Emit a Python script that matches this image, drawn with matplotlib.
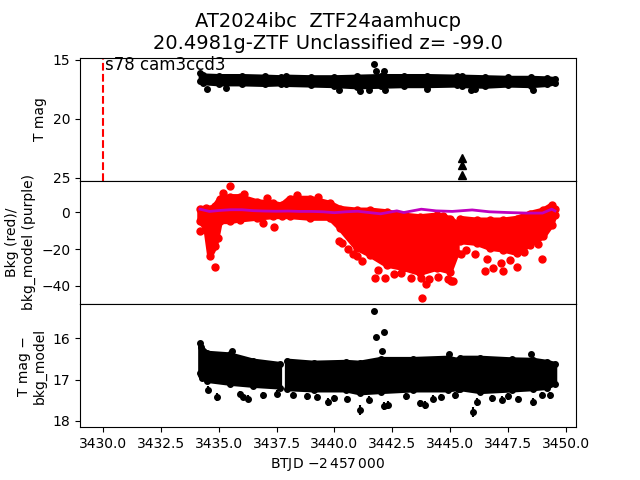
import numpy as np
import matplotlib
matplotlib.use('Agg')
import matplotlib.pyplot as plt

nan = np.nan

# ---------------------------------------------------------------------------
# Values
# top panel: T mag envelope of the dense band (point centres)
top_t  = [3434.2, 3434.3, 3435.0, 3436.0, 3437.0, 3437.7, 3437.9, 3439.0, 3440.0, 3441.0,
          3442.0, 3443.0, 3444.0, 3445.3, 3445.5, 3446.5, 3447.5, 3448.5, 3449.2, 3449.55]
top_hi = [16.15, 16.3, 16.35, 16.35, 16.4, 16.45, 16.4, 16.45, 16.45, 16.4,
          16.35, 16.35, 16.35, 16.4, 16.4, 16.45, 16.5, 16.5, 16.55, 16.6]
top_lo = [16.85, 16.95, 17.05, 17.05, 17.1, 17.05, 17.1, 17.15, 17.2, 17.3,
          17.25, 17.2, 17.2, 17.15, 17.2, 17.25, 17.15, 17.2, 17.1, 16.95]
top_pts_t = [3441.72, 3441.8, 3442.15, 3434.5, 3435.3, 3440.2, 3441.1, 3441.5, 3442.2,
             3444.0, 3445.9, 3446.1, 3448.6]
top_pts_m = [15.36, 15.95, 15.93, 17.45, 17.4, 17.55, 17.65, 17.55, 17.6,
             17.5, 17.6, 17.5, 17.55]
# upper limits
lim_t = [3445.5, 3445.5, 3445.5]
lim_m = [23.3, 23.9, 24.8]

# middle panel: background flux (red) envelope + model (purple)
bkg_t  = [3434.19, 3434.45, 3434.62, 3434.85, 3435.06, 3435.49, 3435.93, 3436.64, 3437.36, 3437.72,
          3438.08, 3438.95, 3439.81, 3440.25, 3440.97, 3441.54, 3442.26, 3442.98, 3443.7, 3444.43,
          3445.0, 3445.3, 3445.36, 3445.44, 3446.15, 3446.73, 3447.3, 3447.88, 3448.46, 3449.04,
          3449.4, 3449.54]
bkg_hi = [1.9, 2.0, 1.5, 3.5, 7.4, 8.3, 8.3, 5.6, 4.7, 3.7,
          7.4, 7.4, 4.7, 1.9, 1.0, 1.0, 0.1, -1.7, -2.6, -1.7,
          -3.5, -6.2, nan, -3.5, -4.4, -4.4, -4.4, -3.5, -0.8, 1.0,
          3.7, 1.9]
bkg_lo = [-5.0, -8.5, -24.0, -18.5, -5.0, -5.0, -4.1, -3.2, -2.3, -2.3,
          -2.3, -3.2, -3.2, -8.7, -19.5, -23.1, -28.6, -30.4, -33.1, -30.4,
          -32.2, -22.2, nan, -15.9, -16.8, -19.5, -20.4, -22.2, -17.7, -13.2,
          -6.8, -1.4]
bkg_pts_t = [3435.49, 3434.84, 3434.2, 3434.95, 3437.4, 3440.2, 3440.35, 3441.2, 3441.75, 3442.2,
             3443.78, 3443.95, 3443.75, 3445.05, 3445.15, 3444.7, 3445.47, 3446.1, 3446.52, 3446.6,
             3446.88, 3447.28, 3447.2, 3447.88, 3449.0, 3442.9, 3444.1, 3444.5, 3441.0, 3440.6,
             3435.2, 3436.1, 3437.1, 3438.4, 3439.3, 3441.9, 3442.6, 3443.3, 3444.9, 3445.7,
             3447.6, 3448.2, 3448.8, 3440.8, 3436.9]
bkg_pts_v = [14.3, -29.7, -10.2, -13.8, -8.3, -15.6, -16.5, -26.5, -35.5, -35.5,
             -46.7, -38.8, -35.9, -37.3, -37.3, -2.0, -22.5, -22.5, -31.9, -25.6,
             -30.5, -31.9, -27.4, -29.7, -25.6, -33.0, -36.0, -35.0, -24.0, -20.0,
             10.5, 10.0, 7.5, 9.5, 8.0, -31.5, -33.5, -35.5, -36.5, -20.5,
             -26.0, -21.5, -17.0, -22.5, -6.0]
model_t = [3434.19, 3434.6, 3435.0, 3435.5, 3436.0, 3436.5, 3437.0, 3437.5, 3438.0, 3438.5,
           3439.0, 3439.5, 3440.0, 3440.5, 3441.0, 3441.5, 3442.0, 3442.7, 3443.0, 3443.76,
           3444.4, 3445.1, 3445.96, 3446.7, 3447.5, 3448.3, 3449.0, 3449.4, 3449.54]
model_v = [1.6, 0.4, 0.9, 1.3, 1.3, 0.8, 0.6, 0.5, 0.6, 0.4,
           0.4, 0.2, -0.3, 0.2, 0.5, -0.2, -0.9, 0.7, -0.2, 1.6,
           0.7, 0.4, 1.2, 0.2, -0.2, -0.5, -0.5, 1.6, 0.7]

# bottom panel: T mag - bkg_model envelope + individual points with errors
sub_t  = [3434.2, 3434.25, 3434.5, 3435.5, 3436.5, 3437.65, 3437.75, 3437.95, 3439.1, 3440.5,
          3441.1, 3442.0, 3443.4, 3444.9, 3445.33, 3445.37, 3445.45, 3446.3, 3447.7, 3448.6,
          3449.2, 3449.55]
sub_hi = [16.12, 16.22, 16.35, 16.39, 16.54, 16.62, nan, 16.54, 16.59, 16.57,
          16.59, 16.5, 16.5, 16.47, 16.52, nan, 16.47, 16.47, 16.51, 16.52,
          16.57, 16.62]
sub_lo = [16.83, 16.88, 17.03, 17.1, 17.15, 17.19, nan, 17.23, 17.26, 17.26,
          17.33, 17.3, 17.26, 17.26, 17.23, nan, 17.23, 17.3, 17.26, 17.23,
          17.2, 17.1]
sub_pts_t = [3434.29, 3434.55, 3434.91, 3435.56, 3436.06, 3436.28, 3436.93, 3437.5, 3439.24, 3439.74,
             3440.53, 3441.11, 3442.15, 3442.3, 3443.7, 3443.92, 3444.28, 3445.22, 3445.98, 3446.16,
             3447.24, 3447.96, 3448.6, 3449.33, 3441.73, 3441.8, 3442.15, 3444.96, 3448.49, 3442.05,
             3435.9, 3438.2, 3438.8, 3440.0, 3441.5, 3443.1, 3444.6, 3446.8, 3447.5, 3449.0]
sub_pts_m = [16.97, 17.24, 17.42, 16.31, 17.42, 17.46, 17.38, 17.34, 17.42, 17.54,
             17.47, 17.73, 17.63, 17.61, 17.57, 17.61, 17.46, 17.38, 17.79, 17.54,
             17.48, 17.47, 17.54, 17.38, 15.34, 15.97, 15.85, 16.37, 16.37, 16.3,
             17.35, 17.38, 17.4, 17.45, 17.48, 17.4, 17.42, 17.45, 17.4, 17.36]
sub_pts_e = [0.06, 0.08, 0.1, 0.05, 0.08, 0.08, 0.08, 0.08, 0.08, 0.09,
             0.08, 0.12, 0.1, 0.1, 0.09, 0.09, 0.08, 0.08, 0.12, 0.1,
             0.08, 0.08, 0.1, 0.08, 0.0, 0.0, 0.0, 0.05, 0.05, 0.05,
             0.07, 0.07, 0.08, 0.08, 0.08, 0.08, 0.08, 0.08, 0.08, 0.07]

# ---------------------------------------------------------------------------
fig, (ax1, ax2, ax3) = plt.subplots(3, 1, sharex=True, figsize=(6.4, 4.8), dpi=100)
fig.subplots_adjust(hspace=0)

# T mag
ax1.fill_between(top_t, top_lo, top_hi, color='k', lw=3)
ax1.plot(top_t, top_hi, 'ko', ms=4)
ax1.plot(top_t, top_lo, 'ko', ms=4)
ax1.plot(top_pts_t, top_pts_m, 'ko', ms=4)
ax1.plot(lim_t, lim_m, 'k^', ms=6)
ax1.axvline(3430, color='r', ls='--', lw=1.5)
ax1.text(3430.08, 15.85, 's78 cam3ccd3', fontsize=12)
ax1.set_ylim(25.25, 14.83)
ax1.set_ylabel('T mag')
ax1.set_title('AT2024ibc  ZTF24aamhucp\n20.4981g-ZTF Unclassified z= -99.0', fontsize=14)

# background
ax2.fill_between(bkg_t, bkg_lo, bkg_hi, color='r', lw=4)
ax2.plot(bkg_t, bkg_hi, 'ro', ms=5)
ax2.plot(bkg_t, bkg_lo, 'ro', ms=5)
ax2.plot(bkg_pts_t, bkg_pts_v, 'ro', ms=5)
ax2.plot(model_t, model_v, color='m', lw=2)
ax2.set_ylim(-49.8, 17.0)
ax2.set_ylabel('Bkg (red)/\nbkg_model (purple)')

# background-subtracted
ax3.fill_between(sub_t, sub_lo, sub_hi, color='k', lw=3)
ax3.plot(sub_t, sub_hi, 'ko', ms=4)
ax3.plot(sub_t, sub_lo, 'ko', ms=4)
ax3.errorbar(sub_pts_t, sub_pts_m, yerr=sub_pts_e, fmt='ko', ms=4, lw=1.5)
ax3.set_ylim(18.15, 15.17)
ax3.set_ylabel('T mag \u2212\nbkg_model')

ax3.set_xlim(3429.0, 3450.45)
ax3.set_xlabel(r'BTJD $-2\,457\,000$')

plt.savefig('out.png', dpi=100)
